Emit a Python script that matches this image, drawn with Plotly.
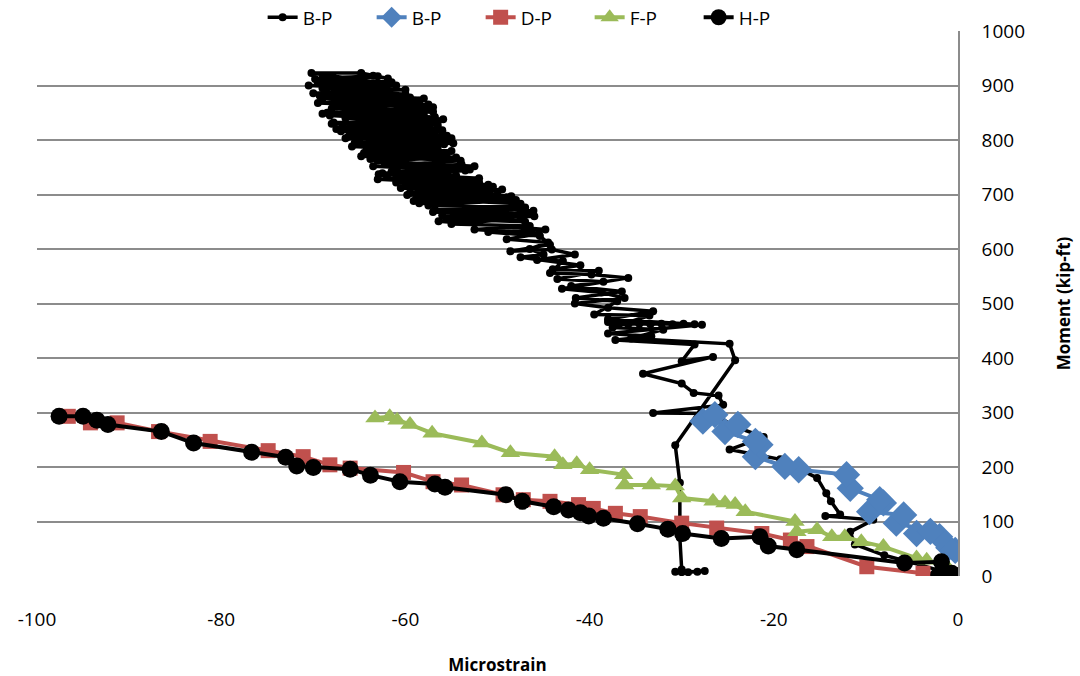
import plotly.graph_objects as go

# B-P (strain gauge, small dots) - loading, cycling near the top, then unloading
bp_x = [0.0, -1.5, -4.0, -8.0, -11.2, -11.7, -9.2, -14.4, -12.8, -13.8, -14.3, -15.3, -19.3, -24.8, -21.1,
        -24.5, -26.5, -33.1, -25.5, -26.0, -28.7, -30.0, -34.2, -26.6, -30.0, -28.6, -37.2, -33.3, -38.0,
        -27.8, -38.0, -37.0, -35.8, -34.6, -33.4, -32.2, -31.0, -29.8, -28.6, -38.0, -33.1, -38.0, -41.6,
        -36.2, -38.7, -43.0, -35.8, -39.8, -44.3, -42.9, -45.7, -41.6, -44.1, -48.6, -44.3, -45.4, -51.0,
        -44.8, -56.4, -46.1, -59.1, -49.5, -59.5, -52.4, -62.9, -53.9, -60.9, -63.8, -55.5, -64.2, -55.5,
        -66.2, -56.0, -67.8, -55.9, -68.5, -57.5, -69.3, -58.5, -69.0, -61.0, -70.2, -64.8, -61.9,
        -63.5, -69.8, -62.0, -68.8, -60.0, -69.0, -58.5, -67.5, -57.0, -68.2, -56.5, -66.8, -56.0, -66.0,
        -55.0, -65.5, -56.5, -63.5, -54.5, -63.0, -53.0, -62.5, -52.0, -61.0, -50.5, -58.0, -48.5, -58.8,
        -47.5, -56.8, -46.5, -55.5, -47.0,
        -54.0, -46.0, -57.0, -48.5, -58.5, -49.0, -59.8, -51.5, -60.0, -52.0, -62.0, -53.5, -63.5, -54.0,
        -64.8, -55.0, -65.8, -54.8, -66.5, -55.5, -67.0, -56.5, -68.0, -56.8, -69.0, -57.0, -69.5, -58.0,
        -70.0, -60.0, -70.5, -61.5, -69.0, -63.0,
        -66.0, -69.5, -62.5, -68.5, -59.5, -67.0, -57.5, -68.0, -58.0, -66.5, -56.5, -67.5, -57.0, -65.0,
        -55.8, -64.5, -57.5, -62.0, -52.5, -61.5, -54.5, -63.0, -51.0, -60.5, -50.0, -58.5, -48.0, -57.5,
        -47.0, -56.0, -47.5, -55.0, -46.5, -52.5, -45.5, -49.0, -44.5, -46.5, -45.0, -47.5, -41.0, -44.0,
        -39.0, -43.5, -38.5, -42.0, -36.5, -41.5, -37.0, -39.5, -33.5, -37.5, -32.0, -35.5, -24.8, -24.2,
        -30.7, -30.2, -30.2, -30.0, -30.7, -29.3, -28.3, -27.5, -30.0]
bp_y = [0, 8, 20, 38, 58, 81, 103, 110, 113, 137, 152, 180, 214, 232, 255,
        276, 298, 299, 314, 331, 336, 353, 371, 402, 394, 425, 433, 440, 445,
        461, 466, 463, 462, 463, 462, 463, 462, 463, 462, 471, 486, 492, 500,
        510, 520, 527, 547, 553, 556, 578, 580, 590, 599, 596, 608, 624, 631,
        636, 651, 670, 688, 709, 703, 725, 737, 755, 749, 765, 775, 783, 798,
        806, 815, 832, 838, 850, 856, 881, 872, 895, 900, 923, 923, 913,
        918, 912, 902, 894, 884, 876, 866, 861, 852, 845, 834, 826, 818, 812,
        803, 795, 786, 779, 768, 762, 746, 739, 730, 722, 714, 706, 697, 692,
        683, 672, 665, 656, 650,
        654, 660, 668, 676, 684, 695, 699, 707, 716, 722, 732, 744, 752, 762,
        770, 780, 788, 794, 803, 808, 816, 824, 830, 842, 848, 860, 868, 876,
        886, 892, 900, 906, 914, 917,
        910, 905, 890, 886, 878, 868, 865, 858, 846, 840, 828, 820, 812, 800,
        792, 776, 770, 760, 752, 742, 735, 728, 718, 712, 700, 694, 690, 680,
        676, 662, 656, 646, 642, 636, 628, 618, 612, 600, 590, 585, 570, 563,
        560, 545, 540, 532, 522, 510, 504, 480, 478, 456, 452, 436, 426, 396,
        240, 171, 70, 12, 8, 7, 8, 9, 7]

# B-P (blue diamonds)
bp2_x = [-0.3, -1.0, -2.0, -4.5, -3.0, -6.7, -5.9, -9.6, -8.1, -8.5, -11.7, -12.1, -17.3, -18.8, -22.0,
         -21.5, -22.0, -25.3, -23.9, -27.7, -26.4]
bp2_y = [47, 52, 72, 78, 82, 97, 112, 118, 134, 140, 161, 186, 195, 201, 219,
         241, 247, 265, 278, 284, 296]

# D-P
dp_x = [0.0, -3.8, -9.9, -16.4, -18.2, -21.3, -26.2, -30.0, -34.5, -37.2, -39.6, -41.2, -44.3, -47.2,
        -49.4, -53.9, -57.0, -60.2, -66.0, -68.2, -71.1, -74.9, -81.2, -86.8, -91.3, -94.2, -96.6]
dp_y = [2, 5, 17, 54, 66, 78, 88, 97, 109, 115, 124, 131, 137, 140,
        149, 167, 173, 190, 198, 204, 219, 230, 247, 265, 281, 281, 293]

# F-P
fp_x = [0.0, -1.2, -3.4, -4.5, -8.1, -10.5, -12.3, -13.7, -15.3, -17.5, -17.7, -23.1, -24.2, -25.3,
        -26.6, -30.0, -30.7, -33.3, -36.2, -36.3, -40.0, -41.4, -42.9, -43.8, -48.6, -51.7, -57.1,
        -59.5, -60.9, -61.7, -63.3]
fp_y = [0, 17, 29, 33, 54, 63, 72, 72, 85, 81, 100, 118, 131, 134,
        137, 143, 165, 167, 167, 186, 195, 206, 204, 219, 226, 244, 262,
        278, 286, 292, 290]

# H-P
hp_x = [0.0, -0.7, -2.1, -1.8, -5.8, -17.5, -20.6, -21.5, -25.7, -29.9, -31.5, -34.8, -38.5, -40.1,
        -41.0, -42.3, -43.9, -47.3, -49.1, -55.7, -56.8, -60.6, -63.8, -66.0, -70.0, -71.8, -73.0,
        -76.7, -83.0, -86.5, -92.3, -93.5, -95.0, -97.6]
hp_y = [0, 5, 2, 26, 24, 48, 55, 72, 69, 78, 86, 96, 106, 110,
        116, 121, 127, 137, 149, 163, 169, 173, 185, 196, 199, 202, 218,
        227, 244, 265, 278, 286, 293, 293]

x_ticks = [-100, -80, -60, -40, -20, 0]
x_labels = ["-100", "-80", "-60", "-40", "-20", "0"]

font = "Open Sans, Liberation Sans, sans-serif"

fig = go.Figure()
fig.add_trace(go.Scatter(x=bp_x, y=bp_y, name="B-P", mode="lines+markers",
                         line=dict(color="black", width=3.5), marker=dict(color="black", size=8)))
fig.add_trace(go.Scatter(x=bp2_x, y=bp2_y, name="B-P", mode="lines+markers",
                         line=dict(color="#4F81BD", width=4), marker=dict(color="#4F81BD", size=21, symbol="diamond")))
fig.add_trace(go.Scatter(x=dp_x, y=dp_y, name="D-P", mode="lines+markers",
                         line=dict(color="#C0504D", width=4), marker=dict(color="#C0504D", size=15, symbol="square")))
fig.add_trace(go.Scatter(x=fp_x, y=fp_y, name="F-P", mode="lines+markers",
                         line=dict(color="#9BBB59", width=4), marker=dict(color="#9BBB59", size=17, symbol="triangle-up")))
fig.add_trace(go.Scatter(x=hp_x, y=hp_y, name="H-P", mode="lines+markers",
                         line=dict(color="black", width=4), marker=dict(color="black", size=17)))

fig.update_layout(
    width=1080, height=676,
    margin=dict(l=37, r=122, t=31, b=100, autoexpand=False),
    plot_bgcolor="white", paper_bgcolor="white",
    font=dict(family=font, size=19, color="black"),
    legend=dict(orientation="h", x=0.245, xanchor="left", y=1.025, yanchor="middle",
                font=dict(size=19), bgcolor="rgba(0,0,0,0)",
                entrywidth=64, entrywidthmode="pixels", itemsizing="trace"),
    showlegend=True,
)
fig.update_xaxes(range=[-100, 0], tickvals=x_ticks, ticktext=x_labels, showgrid=False,
                 zeroline=False, showline=False, ticks="", ticklabelstandoff=30,
                 title=dict(text="<b>Microstrain</b>", font=dict(size=17), standoff=28))
fig.update_yaxes(range=[0, 1000], dtick=100, side="right", showgrid=True, gridcolor="#8C8C8C",
                 gridwidth=1.5, zeroline=False, showline=True, linecolor="#8C8C8C", linewidth=1.5,
                 ticks="", ticklabelstandoff=18,
                 title=dict(text="<b>Moment (kip-ft)</b>", font=dict(size=17), standoff=34))

# page body has an 8px default margin, drop it so the chart sits at 0,0
fig.write_html("out.html", config={"displayModeBar": False},
               post_script="document.body.style.margin='0px';")
